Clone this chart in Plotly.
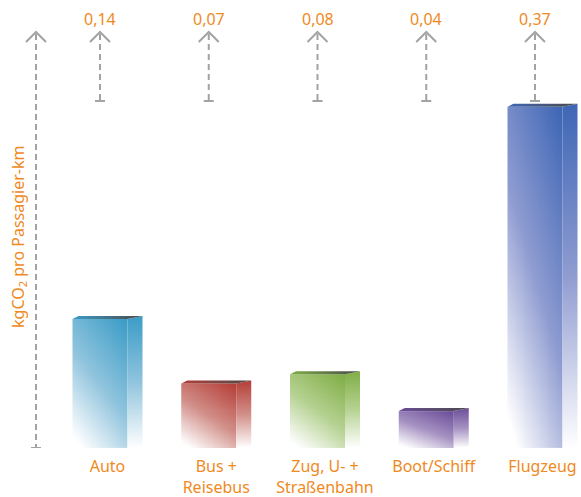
import numpy as np
import plotly.graph_objects as go

# --- data -------------------------------------------------------------
categories = ["Auto", "Bus +<br>Reisebus", "Zug, U- +<br>Straßenbahn", "Boot/Schiff", "Flugzeug"]
values = [0.14, 0.07, 0.08, 0.04, 0.37]          # kg CO2 per passenger-km
value_labels = ["0,14", "0,07", "0,08", "0,04", "0,37"]
bar_colors = ["#3b9cc7", "#b53e38", "#80ae46", "#6c4e99", "#3e66b5"]
bar_mid_colors = ["#90c4dd", "#d28f89", "#b6d292", "#a692c2", "#8f9cd1"]
y_title = "kgCO<sub>2</sub> pro Passagier-km"

# --- page geometry (pixels) -------------------------------------------
W, H = 581, 497
BASE_PX = 448          # pixel row of the zero line
UNIT_PX = 922.0        # pixels per 1 kg
SLOT_PX = 108.75       # distance between neighbouring bars
X0_PX = 100            # pixel column of the first bar's front-face centre

ORANGE = "#ef8a1e"
GREY = "#a3a3a3"
FONT = "Noto Sans"


def dx(p):
    """pixel width -> x data units"""
    return p / SLOT_PX


def dy(p):
    """pixel height -> y data units"""
    return p / UNIT_PX


def y_at(row):
    """absolute pixel row -> y data value"""
    return (BASE_PX - row) / UNIT_PX


def x_at(col):
    """absolute pixel column -> x data value"""
    return (col - X0_PX) / SLOT_PX


FRONT_HW = dx(27.5)    # half width of the front face
SIDE_W = dx(15)        # depth of the side face
TOP_RISE = dy(3)       # how far the back edge sits above the front edge
TOP_SHIFT = dx(6)

positions = np.arange(len(categories), dtype=float)

fig = go.Figure()

for pos, val, col, mid in zip(positions, values, bar_colors, bar_mid_colors):
    a, b = pos - FRONT_HW, pos + FRONT_HW
    c = b + SIDE_W
    scale = [[0, "#ffffff"], [0.05, "#ffffff"], [0.5, mid], [1, col]]

    # front face: gradient from white at bottom-left to full colour at top-right,
    # weighted towards the vertical direction
    nx, ny = 24, 60
    cw, ch = (b - a) / nx, val / ny
    xs = np.linspace(a + cw / 2, b - cw / 2, nx)
    ys = np.linspace(ch / 2, val - ch / 2, ny)
    u = np.linspace(0, 1, nx)[None, :]
    v = np.linspace(0, 1, ny)[:, None]
    z = 0.35 * u + 0.65 * v
    fig.add_trace(go.Heatmap(
        x=xs, y=ys, z=z, zmin=0, zmax=1, zsmooth="best",
        colorscale=scale, showscale=False, hoverinfo="skip",
    ))

    # side face
    fig.add_trace(go.Scatter(
        x=[b, c, c, b, b],
        y=[0, dy(2), val + TOP_RISE, val, 0],
        mode="lines", line=dict(width=0), fill="toself",
        fillgradient=dict(type="vertical",
                          colorscale=[[0, "#ffffff"], [0.5, mid], [1, col]]),
        hoverinfo="skip", showlegend=False,
    ))

    # top face
    fig.add_trace(go.Scatter(
        x=[a, a + TOP_SHIFT, c, b, a],
        y=[val, val + TOP_RISE, val + TOP_RISE, val, val],
        mode="lines", line=dict(width=0), fill="toself",
        fillgradient=dict(type="horizontal",
                          colorscale=[[0, col], [1, "#4a4a4a"]]),
        hoverinfo="skip", showlegend=False,
    ))

shapes = []
line_style = dict(color=GREY, width=2)
dash_style = dict(color=GREY, width=2, dash="6px,4px")


def up_arrow(xc, top_row, bottom_row):
    # chevron head
    shapes.append(dict(
        type="path", xref="x", yref="y",
        path=(f"M {xc - dx(10)} {y_at(top_row + 10)} L {xc} {y_at(top_row)} "
              f"L {xc + dx(10)} {y_at(top_row + 10)}"),
        line=line_style,
    ))
    # dashed shaft
    shapes.append(dict(type="line", xref="x", yref="y",
                       x0=xc, x1=xc, y0=y_at(top_row + 2), y1=y_at(bottom_row),
                       line=dash_style))
    # end stop
    shapes.append(dict(type="line", xref="x", yref="y",
                       x0=xc - dx(5), x1=xc + dx(5), y0=y_at(bottom_row), y1=y_at(bottom_row),
                       line=line_style))


# value arrows above each bar
for pos in positions:
    up_arrow(pos, 32, 101)

# y axis arrow
up_arrow(x_at(36), 32, BASE_PX)

annotations = []
for pos, lab in zip(positions, value_labels):
    annotations.append(dict(
        x=pos, y=y_at(19), xref="x", yref="y", text=lab, showarrow=False,
        font=dict(family=FONT, size=16, color=ORANGE), xanchor="center", yanchor="middle",
    ))

annotations.append(dict(
    x=x_at(18), y=y_at(237), xref="x", yref="y", text=y_title, showarrow=False,
    textangle=-90, font=dict(family=FONT, size=16, color=ORANGE),
    xanchor="center", yanchor="middle",
))

fig.update_layout(
    width=W, height=H,
    margin=dict(l=0, r=0, t=0, b=H - BASE_PX, pad=0),
    paper_bgcolor="white", plot_bgcolor="white",
    showlegend=False,
    shapes=shapes, annotations=annotations,
    xaxis=dict(range=[x_at(0), x_at(W)], tickvals=positions + SIDE_W / 2, ticktext=categories,
               showgrid=False, zeroline=False, showline=False, ticks="",
               tickfont=dict(family=FONT, size=16, color=ORANGE), ticklabelstandoff=7,
               automargin=False, fixedrange=True),
    yaxis=dict(range=[0, y_at(0)], visible=False, automargin=False, fixedrange=True),
)

fig.write_html("out.html")
